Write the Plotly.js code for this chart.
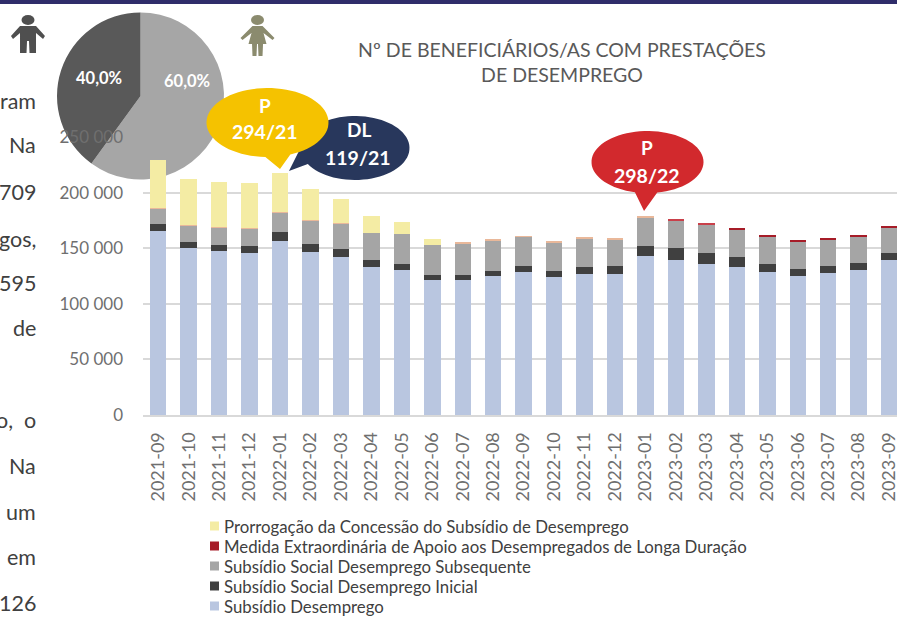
<!DOCTYPE html>
<html><head><meta charset="utf-8">
<script src="https://cdn.plot.ly/plotly-3.0.1.min.js"></script>
<style>
html,body{margin:0;padding:0;background:#fff;overflow:hidden;width:897px;height:617px}
#pie,#chart{position:absolute;left:0;top:0;width:897px;height:617px}
</style></head><body>
<div id="pie"></div><div id="chart"></div>
<script>
const months=["2021-09","2021-10","2021-11","2021-12","2022-01","2022-02","2022-03","2022-04","2022-05","2022-06","2022-07","2022-08","2022-09","2022-10","2022-11","2022-12","2023-01","2023-02","2023-03","2023-04","2023-05","2023-06","2023-07","2023-08","2023-09"];
const subsidioDesemprego=[165800,150200,147800,145700,156800,146300,141800,132800,130400,121700,121700,124700,128900,124100,127100,126800,143000,139400,136100,133400,128600,124700,128000,130700,139400];
const socialInicial=[6000,5400,5400,6600,7800,7500,7200,6600,5400,4500,4500,5100,5100,5400,6000,7200,9300,10500,9600,8400,7200,6600,6000,6000,6300];
const socialSubsequente=[13800,14400,15300,15000,17700,21000,23100,24300,27300,26700,27900,27000,26100,25200,25200,23700,25200,24600,25200,24900,24900,24300,24000,23400,22800];
const medidaExtra=[600,600,600,600,600,600,600,0,0,0,600,600,600,900,900,900,600,900,1500,1500,1500,1500,1500,1800,1800];
const prorrogacao=[43200,41800,40600,40900,34900,27400,21400,15300,10500,5400,0,0,0,0,0,0,0,0,0,0,0,0,0,0,0];
const seriesNames=["Subsídio Desemprego","Subsídio Social Desemprego Inicial","Subsídio Social Desemprego Subsequente","Medida Extraordinária de Apoio aos Desempregados de Longa Duração","Prorrogação da Concessão do Subsídio de Desemprego"];
const seriesColors=["#B9C6E0","#404040","#A5A5A5","#A61C28","#F4ECA4"];
const sexLabels=["Mulheres","Homens"];
const sexShares=[60,40];
const sideText=[["ram",101],["Na",145],["709",192],["gos,",239],["595",283],["de",328],["o,  o",420],["Na",466],["um",512],["em",557],["126",603]];

const W=897,H=617,L=143,R=897,T=137,B=415;
const px=x=>(x-L)/(R-L), py=y=>(B-y)/(B-T);
const P=(pts)=>pts.map((p,i)=>(i?"L":"M")+px(p[0]).toFixed(4)+","+py(p[1]).toFixed(4)).join(" ")+" Z";
function bubble(cx,cy,rx,ry,a0,a1,tip){
  const pts=[];const n=72;
  for(let i=0;i<=n;i++){const a=a1+(a0+360-a1)*i/n;const r=a*Math.PI/180;pts.push([cx+rx*Math.cos(r),cy+ry*Math.sin(r)]);}
  pts.push(tip);return P(pts);
}
const bubbleShape=(path,color)=>({type:"path",xref:"paper",yref:"paper",path:path,fillcolor:color,line:{width:0},layer:"above"});
function icon(x,color,female){
  const c=x, s=[];
  s.push({type:"circle",xref:"paper",yref:"paper",x0:px(c-6.5),x1:px(c+6.5),y0:py(25),y1:py(15),fillcolor:color,line:{width:0}});
  const body=female?
   [[c-5,26],[c+5,26],[c+17,38],[c+15,40],[c+6,33],[c+9,44],[c+5.5,44],[c+5,56],[c+1,56],[c+0.5,44],[c-0.5,44],[c-1,56],[c-5,56],[c-5.5,44],[c-9,44],[c-6,33],[c-15,40],[c-17,38]]:
   [[c-8,26],[c+8,26],[c+17,36],[c+15,39],[c+8,33],[c+8,53],[c+1.5,53],[c+1,41],[c-1,41],[c-1.5,53],[c-8,53],[c-8,33],[c-15,39],[c-17,36]];
  s.push({type:"path",xref:"paper",yref:"paper",path:P(body),fillcolor:color,line:{width:0}});
  return s;
}
const font="Lato, 'Open Sans', sans-serif";
const grey="#6f6f6f";
const bar=(y,name,color)=>({type:"bar",x:months,y:y,name:name,width:0.54,marker:{color:color,line:{width:0}},hoverinfo:"x+y+name",showlegend:false});
const medColors=medidaExtra.map((v,i)=>i<17?"#E9B89A":(i<19?"#C9404A":"#A61C28"));
const traces=[0,1,2,3,4].map(i=>bar([subsidioDesemprego,socialInicial,socialSubsequente,medidaExtra,prorrogacao][i],seriesNames[i],seriesColors[i]));
traces[3].marker.color=medColors;
const ann=(x,y,text,size,color,bold,xa)=>({xref:"paper",yref:"paper",x:px(x),y:py(y),text:text,showarrow:false,xanchor:xa||"center",yanchor:"middle",font:{family:font,size:size,color:color,weight:bold?700:400}});
const legendRows=[4,3,2,1,0];
const legendY=i=>526+i*20;
const pct=v=>v.toFixed(1).replace(".",",")+"%";
const annotations=[
 ann(187,81,pct(sexShares[0]),16.5,"#fff",true),ann(99,78,pct(sexShares[1]),16.5,"#fff",true),
 ann(265,105,"P",19,"#fff",true),ann(265,132,"294/21",19.5,"#fff",true),
 ann(359,129,"DL",19,"#fff",true),ann(358,157,"119/21",19.5,"#fff",true),
 ann(647,147,"P",19,"#fff",true),ann(647,175,"298/22",19.5,"#fff",true),
 ...sideText.map(t=>ann(37.5,t[1],t[0],21.5,"#404040",false,"right")),
 ...legendRows.map((s,i)=>ann(222,legendY(i),seriesNames[s],16.8,"#404040",false,"left"))
];
const shapes=[
 {type:"rect",xref:"paper",yref:"paper",x0:px(0),x1:px(897),y0:py(0),y1:py(4),fillcolor:"#2F2D6A",line:{width:0}},
 ...icon(28,"#4f4f4f",false),...icon(257.5,"#8B8B6E",true),
 ...legendRows.map((s,i)=>({type:"rect",xref:"paper",yref:"paper",x0:px(210),x1:px(219),y0:py(legendY(i)+4.5),y1:py(legendY(i)-4.5),fillcolor:seriesColors[s],line:{width:0}})),
 bubbleShape(bubble(355,148,54.5,32,150,180,[289,171]),"#28375C"),
 bubbleShape(bubble(267.5,122.5,61,34.5,68,92,[280,169]),"#F5C200"),
 bubbleShape(bubble(647.5,162,56,31,80,103,[644,211]),"#D2292D")
];
const layout={
 width:W,height:H,margin:{l:L,r:W-R,t:T,b:H-B},barmode:"stack",showlegend:false,
 paper_bgcolor:"rgba(0,0,0,0)",plot_bgcolor:"rgba(0,0,0,0)",separators:", ",
 font:{family:font,color:grey},
 title:{text:"Nº DE BENEFICIÁRIOS/AS COM PRESTAÇÕES<br>DE DESEMPREGO",x:px(562),xanchor:"center",xref:"paper",y:1-56.5/H,yanchor:"middle",font:{family:font,size:19.5,color:"#595959"}},
 xaxis:{type:"category",range:[-0.5,24.26],tickangle:-90,tickfont:{family:font,size:18,color:grey},ticks:"",showgrid:false,showline:true,linecolor:"#D9D9D9",linewidth:2,automargin:false,ticklabelstandoff:8},
 yaxis:{range:[0,250000],tick0:0,dtick:50000,tickformat:",d",tickfont:{family:font,size:17,color:grey},gridcolor:"#D9D9D9",gridwidth:2,zeroline:false,ticks:"",automargin:false,ticklabelstandoff:19},
 annotations:annotations,shapes:shapes
};
Plotly.newPlot("pie",[{type:"pie",labels:sexLabels,values:sexShares,sort:false,direction:"clockwise",rotation:0,
  marker:{colors:["#A6A6A6","#595959"],line:{width:0}},textinfo:"none",
  domain:{x:[57/W,224/W],y:[1-179.5/H,1-12.5/H]},showlegend:false}],
  {width:W,height:H,margin:{l:0,r:0,t:0,b:0},paper_bgcolor:"#fff"},{displayModeBar:false,staticPlot:true});
Plotly.newPlot("chart",traces,layout,{displayModeBar:false});
</script></body></html>
